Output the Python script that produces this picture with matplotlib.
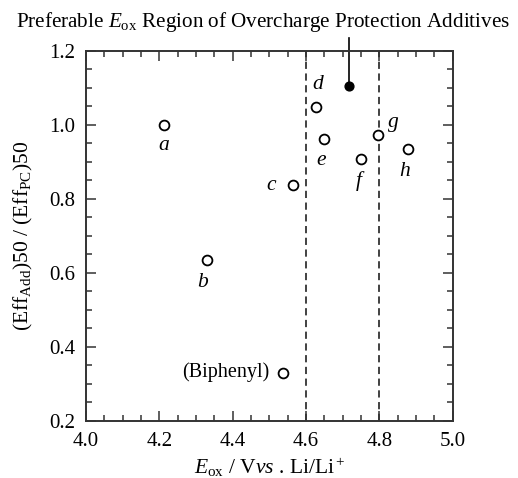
import matplotlib.pyplot as plt
from matplotlib.ticker import MultipleLocator

plt.rcParams['font.family'] = 'Liberation Serif'
plt.rcParams['mathtext.fontset'] = 'custom'
plt.rcParams['mathtext.rm'] = 'Liberation Serif'
plt.rcParams['mathtext.it'] = 'Liberation Serif:italic'

# Datos
labels = ['a', 'b', '(Biphenyl)', 'c', 'd', 'e', 'f', 'g', 'h']
e_ox = [4.213, 4.329, 4.538, 4.565, 4.627, 4.649, 4.75, 4.797, 4.877]
ratio = [1.00, 0.634, 0.330, 0.836, 1.048, 0.960, 0.907, 0.972, 0.933]
best_x, best_y = 4.716, 1.104
region = [4.6, 4.8]

# desplazamiento de cada etiqueta (puntos)
offsets = [(0, -15), (-3, -16), (-10, 0), (-16, 0), (1, 16), (-2, -15), (-2, -16), (11, 9), (-2, -16)]

fig = plt.figure(figsize=(5.18, 4.78), dpi=100)
ax = fig.add_axes([0.166, 0.120, 0.708, 0.774])

ax.scatter(e_ox, ratio, s=50, facecolors='white', edgecolors='black', linewidths=1.3, zorder=3)
ax.scatter([best_x], [best_y], s=40, color='black', zorder=3)

for x in region:
    ax.plot([x, x], [0.2, 1.2], '--', color='#333333', lw=1.3, dashes=(4, 2.5))

# flecha del titulo al punto negro
ax.plot([best_x, best_x], [best_y, 1.235], color='black', lw=1.2, clip_on=False)

for lab, x, y, off in zip(labels, e_ox, ratio, offsets):
    if lab.startswith('('):
        ax.annotate(lab, (x, y), xytext=off, textcoords='offset points',
                    ha='right', va='center', fontsize=14.5)
    else:
        ax.annotate(lab, (x, y), xytext=off, textcoords='offset points',
                    ha='center', va='center', fontsize=15.5, style='italic')

ax.set_xlim(4.0, 5.0)
ax.set_ylim(0.2, 1.2)
ax.xaxis.set_major_locator(MultipleLocator(0.2))
ax.xaxis.set_minor_locator(MultipleLocator(0.05))
ax.yaxis.set_major_locator(MultipleLocator(0.2))
ax.yaxis.set_minor_locator(MultipleLocator(0.05))
ax.xaxis.set_major_formatter(lambda v, p: f'{v:.1f}')
ax.yaxis.set_major_formatter(lambda v, p: f'{v:.1f}')
ax.tick_params(which='both', direction='in', top=True, right=True, labelsize=15, width=1.1, color='#333333')
ax.tick_params(which='major', length=7, pad=8)
ax.tick_params(which='minor', length=4)
for s in ax.spines.values():
    s.set_linewidth(1.4)
    s.set_color('#333333')

ax.set_xlabel(r'$E_{\mathrm{ox}}$ / V$\it{vs}$ . Li/Li$^+$', fontsize=15.5, labelpad=4)
ax.set_ylabel(r'(Eff$_{\mathrm{Add}}$)50 / (Eff$_{\mathrm{PC}}$)50', fontsize=15.5, labelpad=10)
fig.text(0.508, 0.955, r'Preferable $E_{\mathrm{ox}}$ Region of Overcharge Protection Additives',
         ha='center', va='center', fontsize=15.2)

plt.savefig('out.png', dpi=100)
